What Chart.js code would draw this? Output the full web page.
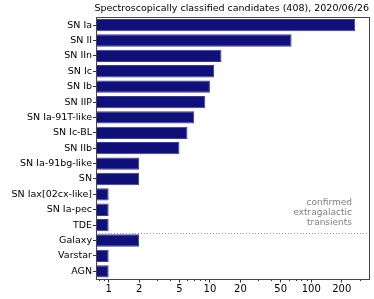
<!DOCTYPE html>
<html>
<head>
<meta charset="utf-8">
<script src="https://cdn.jsdelivr.net/npm/chart.js@4.4.1/dist/chart.umd.min.js"></script>
<style>
  html, body { margin: 0; padding: 0; background: #fff; }
  #wrap { width: 374px; height: 299px; }
</style>
</head>
<body>
<div id="wrap"><canvas id="classChart"></canvas></div>
<script>
// data
const categories = ["SN Ia", "SN II", "SN IIn", "SN Ic", "SN Ib", "SN IIP", "SN Ia-91T-like",
  "SN Ic-BL", "SN IIb", "SN Ia-91bg-like", "SN", "SN Iax[02cx-like]", "SN Ia-pec", "TDE",
  "Galaxy", "Varstar", "AGN"];
const counts = [272, 64, 13, 11, 10, 9, 7, 6, 5, 2, 2, 1, 1, 1, 2, 1, 1];
const tickLabels = [1, 2, 5, 10, 20, 50, 100, 200];
const minorTicks = [0.8, 0.9, 3, 4, 6, 7, 8, 9, 30, 40, 60, 70, 80, 90, 300];
const lastExtragalactic = "TDE";

const FONT = "'DejaVu Sans', sans-serif";

// dotted separator, note text and the frame
const extrasPlugin = {
  id: "extras",
  afterDatasetsDraw(chart) {
    const { ctx, chartArea: a, scales: { x, y } } = chart;
    const i = categories.indexOf(lastExtragalactic);
    const yy = Math.round((y.getPixelForValue(i) + y.getPixelForValue(i + 1)) / 2) + 0.5;
    ctx.save();
    ctx.strokeStyle = "#999";
    ctx.lineWidth = 1;
    ctx.setLineDash([1, 2]);
    ctx.beginPath();
    ctx.moveTo(a.left, yy);
    ctx.lineTo(a.right, yy);
    ctx.stroke();
    ctx.setLineDash([]);

    ctx.fillStyle = "#808080";
    ctx.font = "9px " + FONT;
    ctx.textAlign = "right";
    ctx.textBaseline = "middle";
    ["confirmed", "extragalactic", "transients"].forEach((t, k) => {
      ctx.fillText(t, a.right - 17, yy - 31 + k * 10.3);
    });

    // minor log ticks
    ctx.strokeStyle = "#333";
    ctx.beginPath();
    minorTicks.forEach(v => {
      const px = Math.round(x.getPixelForValue(v)) + 0.5;
      ctx.moveTo(px, a.bottom);
      ctx.lineTo(px, a.bottom + 2);
    });
    ctx.stroke();

    ctx.strokeStyle = "#444";
    ctx.strokeRect(Math.round(a.left) + 0.5, Math.round(a.top) + 0.5,
      Math.round(a.right - a.left), Math.round(a.bottom - a.top));
    ctx.restore();
  }
};

document.addEventListener("DOMContentLoaded", function () {
  const ctx = document.getElementById("classChart").getContext("2d");
  new Chart(ctx, {
    type: "bar",
    data: {
      labels: categories,
      datasets: [{
        data: counts,
        backgroundColor: "#10107a",
        borderColor: "#3c3c96",
        borderWidth: 1,
        borderSkipped: false,
        barPercentage: 0.8,
        categoryPercentage: 1.0
      }]
    },
    options: {
      indexAxis: "y",
      responsive: true,
      maintainAspectRatio: false,
      animation: false,
      layout: { padding: { left: 0, right: 5, top: 0, bottom: 0 } },
      scales: {
        x: {
          type: "logarithmic",
          min: 0.75,
          max: 372,
          afterBuildTicks(scale) {
            scale.ticks = tickLabels.map(v => ({ value: v }));
          },
          afterFit(scale) { scale.height = 20; },
          ticks: {
            autoSkip: false,
            maxRotation: 0,
            padding: 1,
            color: "#000",
            font: { family: FONT, size: 10 },
            callback: v => String(v)
          },
          grid: { drawOnChartArea: false, drawTicks: true, tickLength: 3.5, color: "#333" },
          border: { display: false }
        },
        y: {
          afterFit(scale) { scale.width = 96; },
          ticks: {
            autoSkip: false,
            padding: 1,
            color: "#000",
            font: { family: FONT, size: 9.5 }
          },
          grid: { drawOnChartArea: false, drawTicks: true, tickLength: 3, color: "#333", offset: false },
          border: { display: false }
        }
      },
      plugins: {
        legend: { display: false },
        tooltip: { enabled: false },
        title: {
          display: true,
          text: "Spectroscopically classified candidates (408), 2020/06/26",
          color: "#000",
          align: "end",
          font: { family: FONT, size: 9.5, weight: "normal" },
          padding: { top: 3, bottom: 3 }
        }
      }
    },
    plugins: [extrasPlugin]
  });
});
</script>
</body>
</html>
